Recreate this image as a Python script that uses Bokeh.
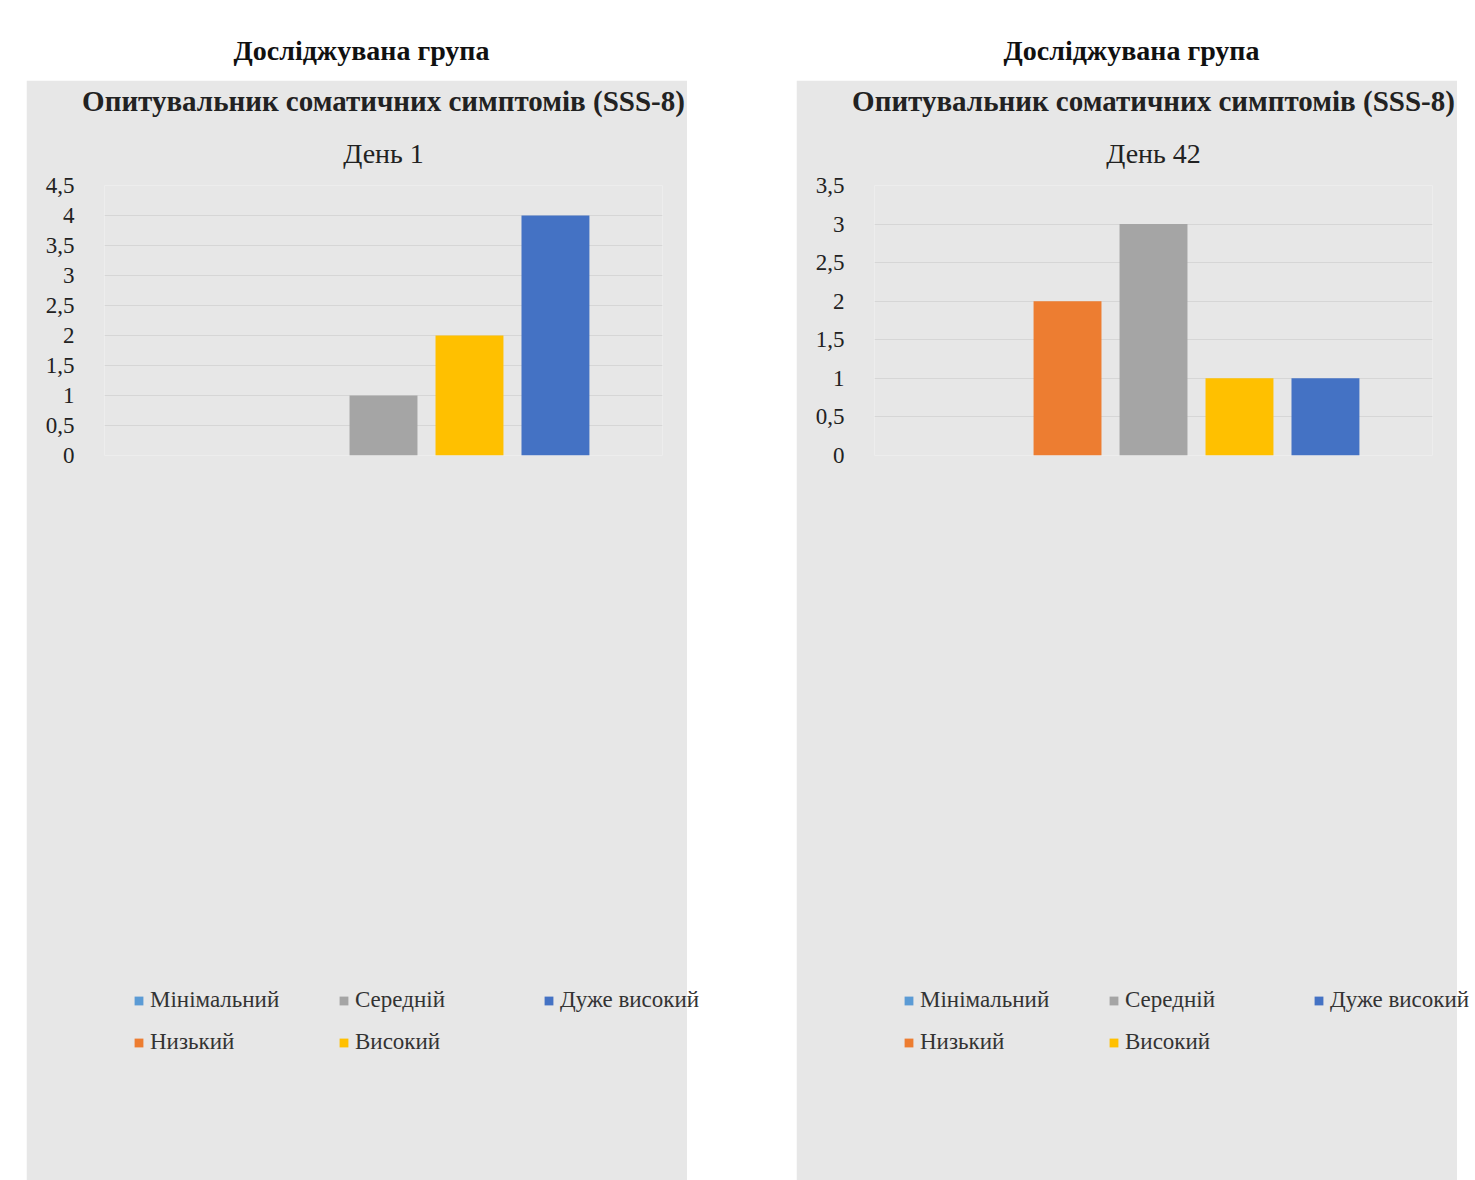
from bokeh.plotting import figure
from bokeh.models import Div, Spacer, Title, Legend, LegendItem, FixedTicker
from bokeh.layouts import row, column
from bokeh.embed import file_html
from bokeh.resources import INLINE

categories = ["Мінімальний", "Низький", "Середній", "Високий", "Дуже високий"]
colors = ["#5b9bd5", "#ed7d31", "#a5a5a5", "#ffc000", "#4472c4"]
study_day1 = [0, 0, 1, 2, 4]
study_day42 = [0, 2, 3, 1, 1]
control_day1 = [0, 1, 1, 2, 3]
control_day42 = [0, 0, 2, 3, 2]
group_titles = ["Досліджувана група", "Досліджувана група", "Контрольна група", "Контрольна група"]
chart_title = "Опитувальник соматичних симптомів (SSS-8)"
day_titles = ["День 1", "День 42", "День 1", "День 42"]
ymaxes = [4.5, 3.5, 3.5, 3.5]
FONT = "Liberation Serif"
BG = "#e7e7e7"

def make_fig(vals, day, ymax):
    p = figure(frame_width=558, frame_height=270, min_border_left=78, min_border_right=25,
               min_border_top=103, min_border_bottom=117,
               x_range=(2 - 3.245, 2 + 3.245), y_range=(0, ymax),
               output_backend="svg", toolbar_location=None,
               background_fill_color=BG, border_fill_color=BG, outline_line_color=None)
    p.add_layout(Title(text=day, text_font=FONT, text_font_size="28px", text_font_style="normal",
                       align="center", text_color="#222222", standoff=34), "above")
    p.add_layout(Title(text=chart_title, text_font=FONT, text_font_size="29px", text_font_style="bold",
                       align="center", text_color="#222222", standoff=4), "above")
    items = []
    for i, (c, v, col) in enumerate(zip(categories, vals, colors)):
        r = p.vbar(x=[i], top=[v], width=0.79, color=col, line_color=None)
        items.append(LegendItem(label=c, renderers=[r]))
    leg = Legend(items=items, ncols=3, location="top_left", background_fill_alpha=0,
                 border_line_color=None, label_text_font=FONT, label_text_font_size="23px",
                 label_text_color="#333333", glyph_width=11, glyph_height=11, label_width=172,
                 label_standoff=6, spacing=16, padding=5, margin=29, label_height=24)
    p.add_layout(leg, "below")
    p.xaxis.visible = False
    ticks = [k * 0.5 for k in range(int(ymax * 2) + 1)]
    p.yaxis.ticker = FixedTicker(ticks=ticks)
    p.yaxis.major_label_overrides = {t: (str(int(t)) if t == int(t) else str(t).replace(".", ",")) for t in ticks}
    p.yaxis.axis_line_color = None
    p.yaxis.major_tick_line_color = None
    p.yaxis.minor_tick_line_color = None
    p.yaxis.major_label_text_font = FONT
    p.yaxis.major_label_text_font_size = "23px"
    p.yaxis.major_label_text_color = "#222222"
    p.yaxis.major_label_standoff = 24
    p.xgrid.visible = False
    p.ygrid.grid_line_color = "#d6d6d6"
    return p

def make_div(text, h, pad):
    return Div(text=f'<div style="width:661px;height:{h}px;text-align:center;font-family:\'{FONT}\';'
                    f'font-weight:bold;font-size:28px;color:#111;padding-top:{pad}px;box-sizing:border-box">{text}</div>',
               width=661, height=h)

figs = [make_fig(v, d, m) for v, d, m in zip([study_day1, study_day42, control_day1, control_day42], day_titles, ymaxes)]
left = column(make_div(group_titles[0], 70, 26), figs[0], make_div(group_titles[2], 77, 28), figs[2], spacing=0)
right = column(make_div(group_titles[1], 70, 26), figs[1], make_div(group_titles[3], 77, 34), figs[3], spacing=0)
layout = row(Spacer(width=26), left, Spacer(width=99), right, spacing=0)
open("out.html", "w").write(file_html(layout, INLINE))
